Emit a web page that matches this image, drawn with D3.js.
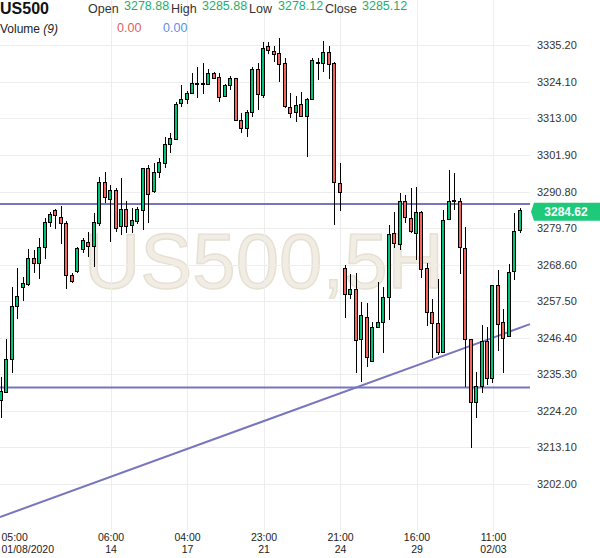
<!DOCTYPE html>
<html><head><meta charset="utf-8">
<script src="https://cdnjs.cloudflare.com/ajax/libs/d3/7.8.5/d3.min.js"></script>
<style>
html,body{margin:0;padding:0;background:#fff;}
svg{display:block;font-family:"Liberation Sans",Arial,sans-serif;}
</style></head><body>
<svg id="chart" width="600" height="558"></svg>
<script>
// ---- data ----
const symbol = "US500";
const watermark = "US500,5H";
const headerLabels = ["Open", "High", "Low", "Close"];
const headerValues = ["3278.88", "3285.88", "3278.12", "3285.12"];
const volumeLabel = "Volume";
const volumeParam = "(9)";
const volumeValues = ["0.00", "0.00"];
const lastPrice = 3284.62;

const candleOpen = [3227.4,3229.7,3239.8,3256.0,3261.7,3262.7,3270.5,3269.0,3273.8,3281.4,
3284.9,3283.0,3281.1,3265.3,3266.4,3273.3,3275.4,3274.0,3281.1,3293.6,
3288.5,3291.0,3280.3,3285.2,3280.6,3281.6,3285.0,3297.9,3290.8,3296.5,
3299.4,3305.1,3306.7,3317.4,3318.8,3320.6,3323.4,3323.5,3323.4,3326.7,
3325.5,3319.6,3322.9,3325.2,3312.5,3310.0,3314.9,3328.0,3319.9,3335.0,
3333.4,3332.6,3329.6,3316.4,3314.8,3317.1,3313.5,3318.9,3329.8,3329.8,
3333.1,3329.6,3293.3,3267.5,3259.6,3261.1,3245.9,3252.6,3239.1,3249.5,
3251.1,3258.6,3278.1,3274.8,3287.7,3282.7,3278.1,3284.4,3267.5,3254.1,
3250.8,3241.9,3282.4,3287.7,3287.9,3273.5,3245.7,3226.6,3231.5,3245.2,
3234.0,3262.1,3250.9,3246.9,3266.4,3278.88];
const candleHigh = [3234.5,3245.9,3261.9,3267.5,3264.9,3273.2,3273.0,3276.6,3282.8,3284.7,
3285.4,3286.5,3281.9,3265.9,3273.8,3276.6,3278.6,3284.2,3295.2,3296.8,
3292.8,3291.8,3294.8,3288.0,3285.7,3286.0,3297.9,3298.9,3299.4,3300.9,
3307.3,3308.5,3318.1,3323.2,3321.4,3326.9,3328.5,3330.0,3327.9,3327.2,
3326.9,3323.5,3325.9,3325.4,3314.6,3315.6,3328.7,3329.8,3336.3,3336.1,
3335.0,3337.4,3331.3,3320.8,3319.9,3321.1,3319.1,3331.3,3331.3,3336.6,
3335.1,3330.2,3299.4,3268.5,3265.6,3266.1,3257.3,3256.8,3251.2,3263.4,
3261.9,3280.6,3284.7,3290.4,3289.7,3291.8,3292.3,3284.9,3269.2,3258.3,
3264.1,3285.2,3297.3,3296.3,3288.7,3280.1,3245.7,3236.0,3250.2,3249.7,
3262.1,3267.0,3255.0,3268.7,3284.4,3285.88];
const candleLow = [3222.0,3229.5,3235.7,3252.0,3257.5,3262.1,3265.9,3264.1,3270.2,3280.1,
3279.3,3274.9,3261.1,3263.1,3266.1,3272.2,3271.0,3268.0,3280.3,3287.2,
3275.5,3278.6,3277.6,3278.1,3278.1,3280.8,3279.0,3281.1,3290.3,3294.8,
3297.9,3302.4,3306.5,3316.4,3317.4,3320.6,3319.1,3320.4,3323.4,3324.9,
3318.1,3319.6,3321.7,3312.3,3308.7,3307.3,3313.5,3315.6,3319.3,3332.6,
3330.1,3324.2,3316.3,3313.0,3311.8,3313.4,3301.2,3318.6,3324.7,3327.2,
3324.9,3280.6,3285.0,3252.3,3258.0,3235.6,3233.0,3237.6,3238.9,3249.2,
3241.8,3251.8,3273.5,3273.0,3281.3,3278.1,3270.0,3264.4,3249.9,3240.1,
3241.1,3241.6,3282.1,3285.2,3265.6,3231.5,3212.8,3221.9,3229.7,3232.0,
3232.5,3242.3,3235.7,3246.7,3263.9,3278.12];
const candleClose = [3230.0,3239.8,3256.0,3258.8,3262.9,3270.5,3269.0,3273.8,3281.4,3283.9,
3283.4,3281.1,3265.4,3263.6,3273.5,3276.0,3274.0,3281.3,3293.6,3288.9,
3291.0,3279.6,3285.2,3280.3,3282.1,3285.2,3297.9,3290.0,3296.7,3299.6,
3305.2,3306.8,3317.1,3318.8,3320.6,3323.7,3323.7,3323.7,3326.7,3325.2,
3319.4,3322.9,3325.2,3312.5,3310.0,3314.9,3328.0,3320.3,3334.3,3333.5,
3332.5,3329.5,3316.6,3314.6,3316.9,3313.5,3318.9,3330.5,3330.1,3333.1,
3329.5,3293.5,3290.4,3259.6,3261.1,3245.5,3253.0,3240.3,3249.5,3251.1,
3258.6,3277.6,3275.1,3287.7,3282.8,3278.6,3284.4,3267.0,3254.1,3250.8,
3241.8,3282.1,3287.9,3288.1,3273.7,3245.9,3226.6,3231.7,3245.2,3234.0,
3262.1,3250.4,3246.2,3266.1,3278.6,3285.12];

const yTicks = [3335.20,3324.10,3313.00,3301.90,3290.80,3279.70,3268.60,3257.50,3246.40,3235.30,3224.20,3213.10,3202.00];
const xTickIndex = [6, 20, 34, 48, 62, 76, 90];
const xTickTime = ["05:00","06:00","04:00","23:00","21:00","16:00","11:00"];
const xTickDate = ["01/08/2020","14","17","21","24","29","02/03"];

// drawn trend lines: [startIndex, startPrice, endIndex, endPrice]
const resistanceLine = [-0.25, 3287.0, 96.8, 3287.0];
const supportLine = [-0.25, 3231.25, 96.8, 3231.25];
const trendLine = [-0.25, 3191.9, 96.8, 3250.5];

// ---- chart ----
const svg = d3.select("#chart");
const plotRight = 530, plotBottom = 530;
const x = d3.scaleLinear().domain([0, 95]).range([1.3, 520.3]);
const y = d3.scaleLinear().domain([3202.0, 3335.2]).range([483.8, 45.4]);

// watermark
svg.append("text").attr("x", 84).attr("y", 288)
  .attr("font-size", 78).attr("fill", "#f1ede4").attr("stroke", "#e6e0d2").attr("stroke-width", 1.4)
  .attr("font-family", "'Liberation Sans',Arial,sans-serif")
  .text(watermark);

// gridlines
const grid = svg.append("g").attr("shape-rendering", "crispEdges");
grid.selectAll("line.h").data(yTicks).join("line").attr("class","h")
  .attr("x1", 0).attr("x2", plotRight)
  .attr("y1", d => Math.round(y(d)) + 0.5).attr("y2", d => Math.round(y(d)) + 0.5)
  .attr("stroke", "#ededed");
grid.selectAll("line.v").data(xTickIndex.slice(1)).join("line").attr("class","v")
  .attr("y1", 0).attr("y2", plotBottom)
  .attr("x1", d => Math.round(x(d)) + 0.5).attr("x2", d => Math.round(x(d)) + 0.5)
  .attr("stroke", "#ededed");

// trend lines
const lines = svg.append("g");
[resistanceLine, supportLine, trendLine].forEach(l => {
  lines.append("line")
    .attr("x1", Math.max(0, x(l[0]))).attr("y1", y(l[1]))
    .attr("x2", Math.min(plotRight, x(l[2]))).attr("y2", y(l[3]))
    .attr("stroke", "#7676be").attr("stroke-width", 2);
});

// candles
const candles = candleOpen.map((o, i) => ({i, o, h: candleHigh[i], l: candleLow[i], c: candleClose[i]}));
const cg = svg.append("g").attr("shape-rendering", "crispEdges");
const cx = d => Math.floor(x(d.i)) + 0.5;
cg.selectAll("line.wick").data(candles).join("line").attr("class","wick")
  .attr("x1", cx).attr("x2", cx)
  .attr("y1", d => y(d.h)).attr("y2", d => y(d.l))
  .attr("stroke", "#000").attr("stroke-width", 1);
cg.selectAll("rect.body").data(candles).join("rect").attr("class","body")
  .attr("x", d => cx(d) - 2)
  .attr("width", 3)
  .attr("y", d => y(Math.max(d.o, d.c)))
  .attr("height", d => Math.max(0.8, Math.abs(y(d.o) - y(d.c))))
  .attr("fill", d => d.c >= d.o ? "#00c27a" : "#f2645c")
  .attr("stroke", "#000").attr("stroke-width", 1);

// y axis
const yAxis = svg.append("g").attr("transform", `translate(${plotRight},0)`)
  .call(d3.axisRight(y).tickValues(yTicks).tickSize(0).tickPadding(7).tickFormat(d3.format(".2f")));
yAxis.select(".domain").remove();
yAxis.selectAll("text").attr("font-size", 11).attr("fill", "#333")
  .attr("font-family", "'Liberation Sans',Arial,sans-serif");

// x axis (time line from the axis, date line as a second text)
const xAxis = svg.append("g").attr("transform", `translate(0,${plotBottom})`)
  .call(d3.axisBottom(x).tickValues(xTickIndex).tickSize(0).tickPadding(0)
    .tickFormat((d, k) => xTickTime[k]));
xAxis.select(".domain").remove();
xAxis.selectAll(".tick").each(function(d, k) {
  const tick = d3.select(this);
  const first = k === 0;
  const dx = first ? 1 - x(d) : 0;
  tick.select("text").attr("font-size", 10.5).attr("fill", "#222")
    .attr("font-family", "'Liberation Sans',Arial,sans-serif")
    .attr("dy", null).attr("y", 11).attr("x", dx)
    .attr("text-anchor", first ? "start" : "middle");
  tick.append("text").attr("font-size", 10.5).attr("fill", "#222")
    .attr("font-family", "'Liberation Sans',Arial,sans-serif")
    .attr("y", 23).attr("x", dx)
    .attr("text-anchor", first ? "start" : "middle")
    .text(xTickDate[k]);
});

// last price label
const py = y(lastPrice);
const lbl = svg.append("g");
lbl.append("path")
  .attr("d", `M${plotRight + 1},${py} L${plotRight + 4},${py - 9} L600,${py - 9} L600,${py + 9} L${plotRight + 4},${py + 9} Z`)
  .attr("fill", "#1ec97a");
lbl.append("text").attr("x", 566).attr("y", py + 4.5).attr("text-anchor", "middle")
  .attr("font-size", 12).attr("font-weight", "bold").attr("fill", "#fff")
  .text(d3.format(".2f")(lastPrice));

// header
const hdr = svg.append("g").attr("font-family", "'Liberation Sans',Arial,sans-serif");
hdr.append("text").attr("x", 0).attr("y", 14).attr("font-size", 16).attr("font-weight", "bold")
  .attr("fill", "#111").text(symbol);
const labelX = [88, 171, 249, 325];
const valueX = [124, 202, 278, 362];
headerLabels.forEach((lab, k) => {
  hdr.append("text").attr("x", labelX[k]).attr("y", 13).attr("font-size", 12.5).attr("fill", "#333").text(lab);
  hdr.append("text").attr("x", valueX[k]).attr("y", 10).attr("font-size", 12.5).attr("fill", "#1fae68").text(headerValues[k]);
});
const vol = hdr.append("text").attr("x", 0).attr("y", 33).attr("font-size", 12).attr("fill", "#222");
vol.append("tspan").text(volumeLabel + " ");
vol.append("tspan").attr("font-style", "italic").text(volumeParam);
hdr.append("text").attr("x", 117).attr("y", 31.5).attr("font-size", 12.5).attr("fill", "#e0605a").text(volumeValues[0]);
hdr.append("text").attr("x", 163).attr("y", 31.5).attr("font-size", 12.5).attr("fill", "#5b8ee6").text(volumeValues[1]);
</script>
</body></html>
